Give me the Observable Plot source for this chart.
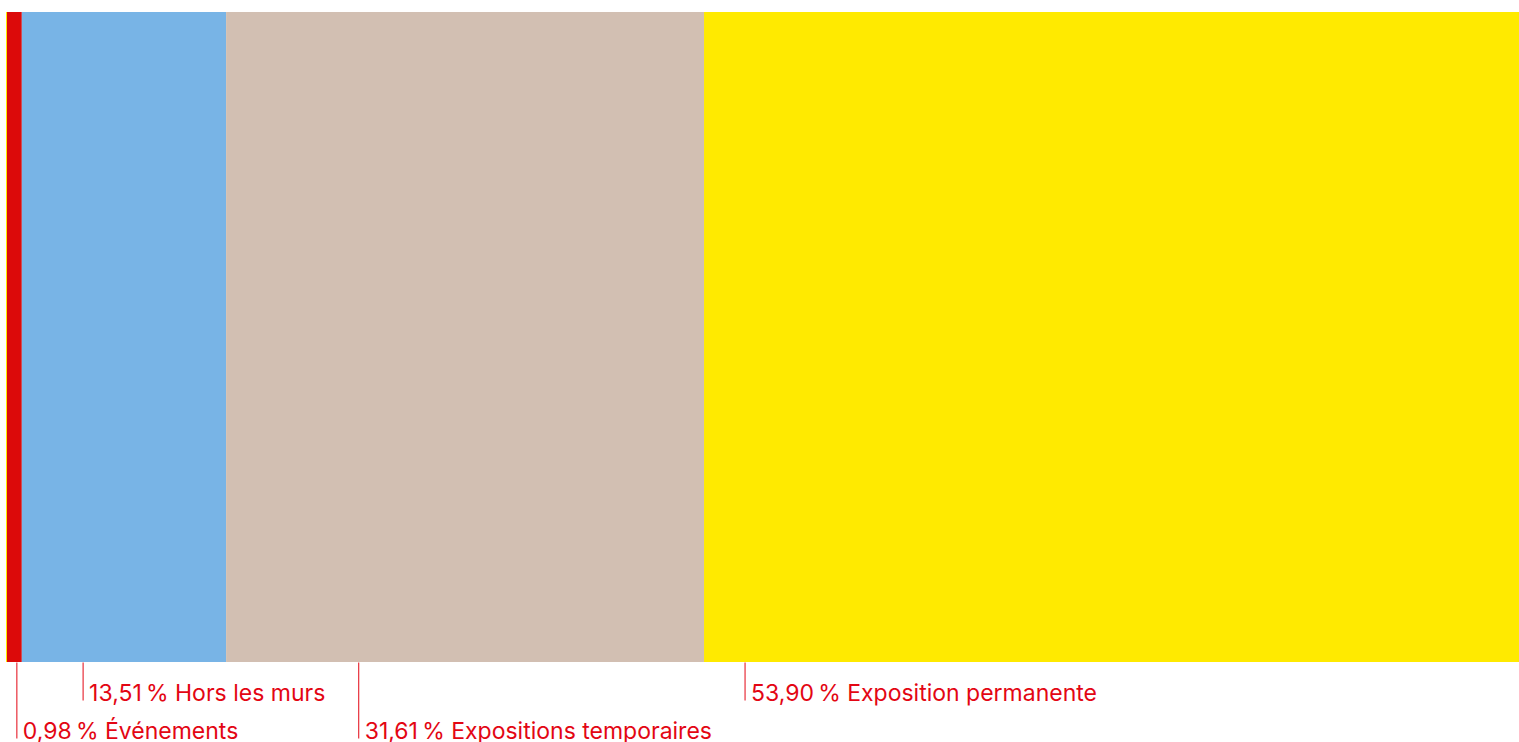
<!DOCTYPE html>
<html>
<head>
<meta charset="utf-8">
<script src="https://cdn.jsdelivr.net/npm/d3@7"></script>
<script src="https://cdn.jsdelivr.net/npm/@observablehq/plot@0.6"></script>
<style>
  html, body { margin: 0; padding: 0; background: #fff; }
  #chart svg { display: block; }
</style>
</head>
<body>
<div id="chart"></div>
<script>
const categories = ["Événements", "Hors les murs", "Expositions temporaires", "Exposition permanente"];
const shares = [0.98, 13.51, 31.61, 53.90];
const colors = ["#dc0a0a", "#78b4e6", "#d2bfb2", "#ffea00"];
const leaderAt = [0.62, 5.0, 23.23, 48.78];
const labelRow = [2, 1, 2, 1];

const fmt = v => v.toFixed(2).replace(".", ",") + "\u202F%";
let acc = 0;
const rows = categories.map((c, i) => {
  const x1 = acc; acc += shares[i];
  return {category: c, x1, x2: acc, color: colors[i], leader: leaderAt[i], row: labelRow[i],
          label: fmt(shares[i]) + " " + c};
});

const rowStep = 38;
const barH = 650;
const textRed = "#e30613";

const plot = Plot.plot({
  width: 1519,
  height: 742,
  marginTop: 0, marginBottom: 0, marginLeft: 0, marginRight: 0,
  x: {domain: [0, 100], range: [7, 1519], axis: null},
  y: {domain: [0, barH], range: [662, 12], axis: null},
  style: {fontFamily: "Inter, sans-serif", fontSize: "23px", background: "#fff"},
  marks: [
    Plot.ruleX([0], {y1: 0, y2: barH, stroke: colors[3], strokeWidth: 1.5, dx: -0.75}),
    Plot.rectX(rows, {x1: "x1", x2: "x2", y1: 0, y2: barH, fill: "color"}),
    Plot.link(rows, {x1: "leader", x2: "leader", y1: 0, y2: d => -rowStep * d.row, stroke: textRed, strokeWidth: 1}),
    Plot.text(rows, {x: "leader", y: d => -rowStep * d.row, text: "label", textAnchor: "start", lineAnchor: "bottom",
      dx: 6, fill: textRed, fontSize: 23})
  ]
});
document.getElementById("chart").appendChild(plot);
</script>
</body>
</html>
